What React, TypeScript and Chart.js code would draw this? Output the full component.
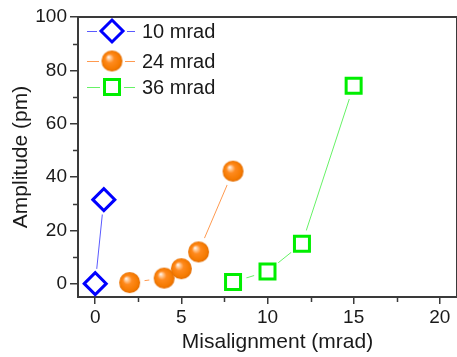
import React, { useEffect, useRef } from 'react';
import { Chart, registerables } from 'chart.js';

Chart.register(...registerables);

// ---- data ----
const seriesLabels = ['10 mrad', '24 mrad', '36 mrad'];
const s10X = [0, 0.5];
const s10Y = [0, 31.5];
const s24X = [2, 4, 5, 6, 8];
const s24Y = [0.4, 2.1, 5.6, 11.9, 42.2];
const s36X = [8, 10, 12, 15];
const s36Y = [0.6, 4.6, 15, 74.2];
const xTicks = [0, 5, 10, 15, 20];
const yTicks = [0, 20, 40, 60, 80, 100];
const xMinorTicks = [2.5, 7.5, 12.5, 17.5];
const yMinorTicks = [10, 30, 50, 70, 90];
const xTitle = 'Misalignment (mrad)';
const yTitle = 'Amplitude (pm)';

const FONT = '"Liberation Sans", Arial, sans-serif';
const AXIS = '#3a3a3a';
const TEXT = '#1a1a1a';

function makeSphere(r: number): HTMLCanvasElement {
  const c = document.createElement('canvas');
  const size = Math.ceil(r * 2 + 2);
  c.width = size;
  c.height = size;
  const ctx = c.getContext('2d')!;
  const cx = size / 2;
  const g = ctx.createRadialGradient(cx - r * 0.35, cx - r * 0.4, 0, cx, cx, r);
  g.addColorStop(0, '#ffffff');
  g.addColorStop(0.15, '#ffd2a8');
  g.addColorStop(0.42, '#ff8a1e');
  g.addColorStop(0.85, '#f57a00');
  g.addColorStop(1, '#e06a00');
  ctx.fillStyle = g;
  ctx.beginPath();
  ctx.arc(cx, cx, r, 0, Math.PI * 2);
  ctx.fill();
  return c;
}

function pts(xs: number[], ys: number[]) {
  return xs.map((x, i) => ({ x, y: ys[i] }));
}

export default function App() {
  const ref = useRef<HTMLCanvasElement | null>(null);

  useEffect(() => {
    document.body.style.margin = '0';
    const canvas = ref.current!;
    const sphere = makeSphere(10.5);

    const lineColors = ['#5a5aff', '#ff9a50', '#66f266'];
    const markColors = ['#0000ff', '#ff8000', '#00ee00'];
    const haloR = [15, 15, 14];
    const datas = [pts(s10X, s10Y), pts(s24X, s24Y), pts(s36X, s36Y)];

    const lineSets = datas.map((d, i) => ({
      label: seriesLabels[i] + ' line',
      data: d,
      showLine: true,
      borderColor: lineColors[i],
      borderWidth: 1,
      pointRadius: haloR[i],
      pointStyle: 'circle',
      pointBackgroundColor: '#ffffff',
      pointBorderWidth: 0,
      pointBorderColor: 'rgba(0,0,0,0)',
      order: 5,
      clip: { left: -1.5, top: 0, right: 0, bottom: -1.5 },
    }));

    const markSets = [
      {
        label: seriesLabels[0],
        data: datas[0],
        showLine: false,
        pointStyle: 'rectRot',
        pointRadius: 11,
        pointBorderWidth: 3,
        pointBorderColor: markColors[0],
        pointBackgroundColor: 'rgba(255,255,255,0)',
        order: 1,
        clip: false,
      },
      {
        label: seriesLabels[1],
        data: datas[1],
        showLine: false,
        pointStyle: sphere,
        pointRadius: 10.5,
        order: 1,
        clip: false,
      },
      {
        label: seriesLabels[2],
        data: datas[2],
        showLine: false,
        pointStyle: 'rect',
        pointRadius: 10.6,
        pointBorderWidth: 3,
        pointBorderColor: markColors[2],
        pointBackgroundColor: 'rgba(255,255,255,0)',
        order: 1,
        clip: false,
      },
    ];

    const framePlugin = {
      id: 'frameAndLegend',
      afterDraw(chart: any) {
        const { ctx, chartArea } = chart;
        const xs = chart.scales.x;
        const ys = chart.scales.y;
        ctx.save();
        // top & right frame
        ctx.strokeStyle = AXIS;
        ctx.lineWidth = 2;
        ctx.beginPath();
        ctx.moveTo(chartArea.left - 1, chartArea.top);
        ctx.lineTo(chartArea.right, chartArea.top);
        ctx.lineTo(chartArea.right, chartArea.bottom);
        ctx.stroke();
        // minor ticks
        ctx.lineWidth = 1.5;
        ctx.beginPath();
        xMinorTicks.forEach((v) => {
          const px = Math.round(xs.getPixelForValue(v)) + 0.5;
          ctx.moveTo(px, chartArea.bottom);
          ctx.lineTo(px, chartArea.bottom + 5);
        });
        yMinorTicks.forEach((v) => {
          const py = Math.round(ys.getPixelForValue(v)) + 0.5;
          ctx.moveTo(chartArea.left, py);
          ctx.lineTo(chartArea.left - 5, py);
        });
        ctx.stroke();

        // x axis title (slightly right of the plot centre, as in the original)
        ctx.fillStyle = TEXT;
        ctx.font = '21px ' + FONT;
        ctx.textAlign = 'center';
        ctx.textBaseline = 'middle';
        ctx.fillText(xTitle, (chartArea.left + chartArea.right) / 2 + 10, xs.bottom - 15);

        // legend
        const lx0 = chartArea.left + 9;
        const lx1 = chartArea.left + 57;
        const mx = chartArea.left + 34;
        const rows = [chartArea.top + 14, chartArea.top + 44, chartArea.top + 70];
        const gaps = [15, 13, 12];
        rows.forEach((y, i) => {
          ctx.strokeStyle = lineColors[i];
          ctx.lineWidth = 1;
          ctx.beginPath();
          ctx.moveTo(lx0, y + 0.5);
          ctx.lineTo(mx - gaps[i], y + 0.5);
          ctx.moveTo(mx + gaps[i], y + 0.5);
          ctx.lineTo(lx1, y + 0.5);
          ctx.stroke();
          if (i === 0) {
            ctx.strokeStyle = markColors[0];
            ctx.lineWidth = 3;
            ctx.beginPath();
            ctx.moveTo(mx, y - 11);
            ctx.lineTo(mx + 11, y);
            ctx.lineTo(mx, y + 11);
            ctx.lineTo(mx - 11, y);
            ctx.closePath();
            ctx.stroke();
          } else if (i === 1) {
            ctx.drawImage(sphere, mx - sphere.width / 2, y - sphere.height / 2);
          } else {
            ctx.strokeStyle = markColors[2];
            ctx.lineWidth = 3;
            ctx.strokeRect(mx - 7.5, y - 7.5, 15, 15);
          }
          ctx.fillStyle = TEXT;
          ctx.font = '20px ' + FONT;
          ctx.textBaseline = 'middle';
          ctx.textAlign = 'left';
          ctx.fillText(seriesLabels[i], chartArea.left + 64, y + 1);
        });
        ctx.restore();
      },
    };

    const chart = new Chart(canvas, {
      type: 'scatter',
      data: { datasets: [...lineSets, ...markSets] as any },
      options: {
        animation: false,
        responsive: false,
        events: [],
        devicePixelRatio: 1,
        layout: { autoPadding: false, padding: { top: 17, right: 0, left: 0, bottom: 0 } },
        plugins: {
          legend: { display: false },
          tooltip: { enabled: false },
        },
        scales: {
          x: {
            type: 'linear',
            min: -1,
            max: 21,
            afterBuildTicks: (s: any) => {
              s.ticks = xTicks.map((v) => ({ value: v }));
            },
            afterFit: (s: any) => {
              s.height = 60;
              s.paddingLeft = 0;
              s.paddingRight = 0;
            },
            ticks: {
              font: { size: 19, family: FONT },
              color: TEXT,
              padding: 2,
              maxRotation: 0,
            },
            grid: {
              drawOnChartArea: false,
              drawTicks: true,
              tickLength: 7,
              color: AXIS,
              lineWidth: 1.5,
            },
            border: { display: true, color: AXIS, width: 2 },
            title: { display: false },
          },
          y: {
            type: 'linear',
            min: -5,
            max: 100,
            afterBuildTicks: (s: any) => {
              s.ticks = yTicks.map((v) => ({ value: v }));
            },
            afterFit: (s: any) => {
              s.width = 78;
              s.paddingTop = 0;
              s.paddingBottom = 0;
            },
            ticks: {
              font: { size: 19, family: FONT },
              color: TEXT,
              padding: 3,
            },
            grid: {
              drawOnChartArea: false,
              drawTicks: true,
              tickLength: 8,
              color: AXIS,
              lineWidth: 1.5,
            },
            border: { display: true, color: AXIS, width: 2 },
            title: {
              display: true,
              text: yTitle,
              font: { size: 21, family: FONT },
              color: TEXT,
              padding: { top: 9, bottom: 0 },
            },
          },
        },
      },
      plugins: [framePlugin],
    });

    return () => chart.destroy();
  }, []);

  return (
    <div style={{ position: 'absolute', left: 0, top: 0, width: 457, height: 357, background: '#fff' }}>
      <canvas ref={ref} width={457} height={357} />
    </div>
  );
}
